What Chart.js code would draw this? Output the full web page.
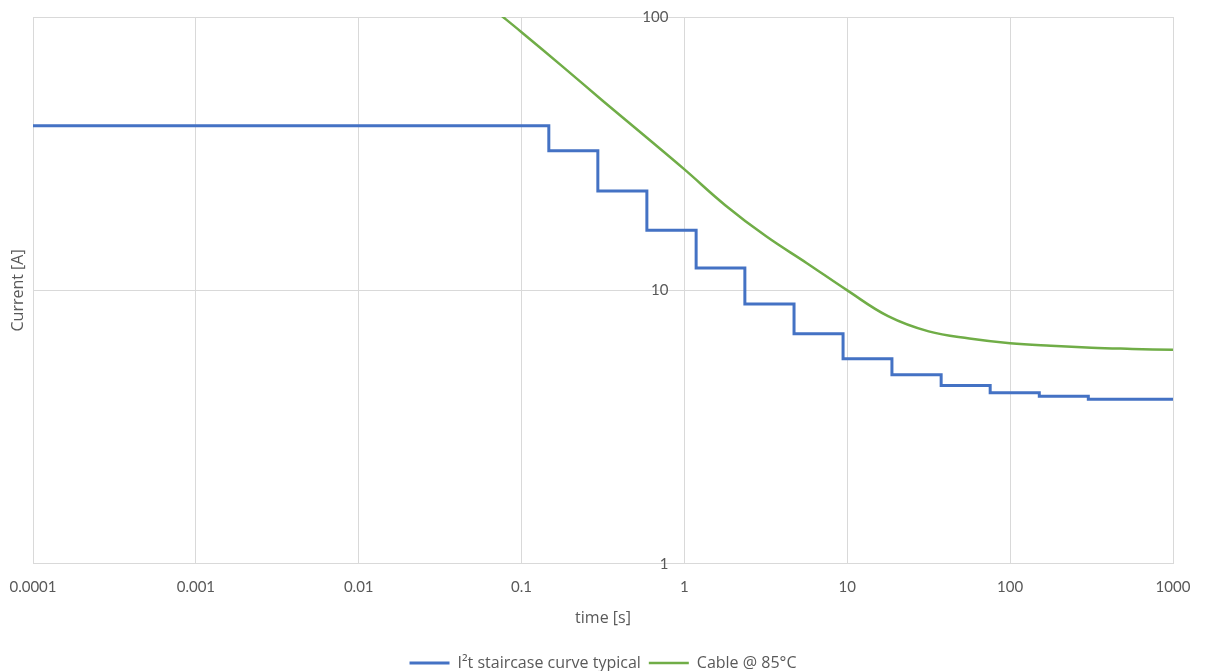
<!DOCTYPE html>
<html>
<head>
<meta charset="utf-8">
<script src="https://cdn.jsdelivr.net/npm/chart.js@4.4.1/dist/chart.umd.min.js"></script>
<style>
  html, body { margin: 0; padding: 0; background: #fff; }
  #wrap { width: 1205px; height: 671px; }
</style>
</head>
<body>
<div id="wrap"><canvas id="chart"></canvas></div>
<script>
// tick values / labels
var xTicks = [0.0001, 0.001, 0.01, 0.1, 1, 10, 100, 1000];
var xTickLabels = ["0.0001", "0.001", "0.01", "0.1", "1", "10", "100", "1000"];
var yTicks = [1, 10, 100];
var yTickLabels = ["1", "10", "100"];
var yCross = 1; // el eje vertical cruza en t = 1 s

// I2t staircase (time where each step starts, current level)
var stairTime = [0.0001, 0.147, 0.294, 0.588, 1.18, 2.35, 4.71, 9.42, 18.8, 37.7, 75.4, 151, 302, 1000];
var stairCurrent = [40.0, 32.4, 23.1, 16.6, 12.07, 8.91, 6.94, 5.62, 4.91, 4.49, 4.22, 4.10, 4.00, 4.00];

// cable @ 85°C
var cableTime = [0.07, 0.1, 0.178, 0.316, 0.562, 1, 1.78, 3.16, 5.62, 10, 17.8, 31.6, 56.2, 100, 178, 316, 562, 1000];
var cableCurrent = [104.7, 88, 66, 49.3, 37, 27.7, 20.5, 15.8, 12.6, 10.0, 8.05, 7.08, 6.67, 6.41, 6.27, 6.17, 6.11, 6.06];

var gridColor = "#d9d9d9";
var textColor = "#595959";
var tickFont = "Lato, 'Open Sans', sans-serif";
var titleFont = "'Open Sans', Lato, sans-serif";

var toPoints = function (xs, ys) {
    return xs.map(function (x, i) { return { x: x, y: ys[i] }; });
};

var yAxisTextPlugin = { // titulo y etiquetas del eje Y (el eje esta dentro del area)
    id: "yAxisText",
    afterDraw: function (chart) {
        var ctx = chart.ctx;
        var area = chart.chartArea;
        var xs = chart.scales.x;
        var ys = chart.scales.y;
        ctx.save();
        ctx.fillStyle = textColor;
        ctx.font = "15px " + tickFont;
        ctx.textAlign = "right";
        ctx.textBaseline = "middle";
        var axisX = xs.getPixelForValue(yCross);
        yTicks.forEach(function (v, i) {
            ctx.fillText(yTickLabels[i], axisX - 16, ys.getPixelForValue(v));
        });
        ctx.translate(18, (area.top + area.bottom) / 2);
        ctx.rotate(-Math.PI / 2);
        ctx.font = "16px " + titleFont;
        ctx.textAlign = "center";
        ctx.fillText("Current [A]", 0, 0);
        ctx.restore();
    }
};

new Chart(document.getElementById("chart"), {
    type: "line",
    data: {
        datasets: [{
            label: "I²t staircase curve typical",
            data: toPoints(stairTime, stairCurrent),
            borderColor: "#4472C4",
            backgroundColor: "#4472C4",
            borderWidth: 3,
            pointRadius: 0,
            stepped: true,
            fill: false
        }, {
            label: "Cable @ 85°C",
            data: toPoints(cableTime, cableCurrent),
            borderColor: "#70AD47",
            backgroundColor: "#70AD47",
            borderWidth: 2.5,
            pointRadius: 0,
            tension: 0.4,
            fill: false
        }]
    },
    options: {
        responsive: true,
        maintainAspectRatio: false,
        animation: false,
        layout: { padding: { left: 33, right: 32, top: 17, bottom: -10 } },
        plugins: {
            legend: {
                position: "bottom",
                labels: {
                    usePointStyle: true,
                    pointStyle: "line",
                    pointStyleWidth: 40,
                    boxHeight: 3,
                    color: textColor,
                    font: { family: titleFont, size: 16 },
                    padding: 8
                }
            },
            tooltip: { enabled: false }
        },
        scales: {
            x: {
                type: "logarithmic",
                min: 0.0001,
                max: 1000,
                afterBuildTicks: function (scale) {
                    scale.ticks = xTicks.map(function (v) { return { value: v }; });
                },
                ticks: {
                    color: textColor,
                    font: { family: tickFont, size: 15 },
                    padding: 2,
                    maxRotation: 0,
                    autoSkip: false,
                    callback: function (v) { return xTickLabels[xTicks.indexOf(v)]; }
                },
                grid: { color: gridColor, drawTicks: true, tickLength: 12, tickColor: "rgba(0,0,0,0)" },
                border: { color: gridColor },
                title: {
                    display: true,
                    text: "time [s]",
                    color: textColor,
                    font: { family: titleFont, size: 16 },
                    padding: { top: 11, bottom: 19 }
                }
            },
            y: {
                type: "logarithmic",
                position: { x: yCross },
                min: 1,
                max: 100,
                afterBuildTicks: function (scale) {
                    scale.ticks = yTicks.map(function (v) { return { value: v }; });
                },
                ticks: { display: false },
                grid: { color: gridColor, drawTicks: false },
                border: { color: gridColor }
            }
        }
    },
    plugins: [yAxisTextPlugin]
});
</script>
</body>
</html>
